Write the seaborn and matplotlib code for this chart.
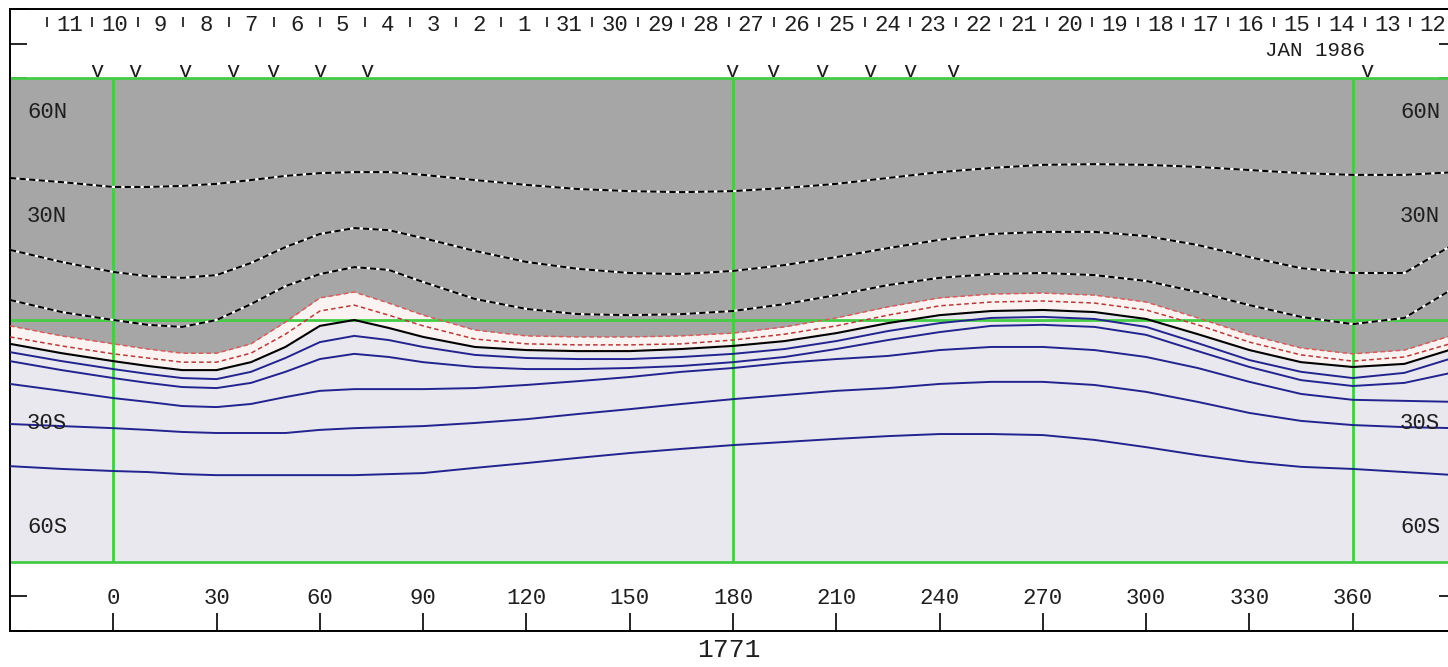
import matplotlib
matplotlib.use("Agg")
import matplotlib.pyplot as plt
import matplotlib.transforms as mtransforms
import seaborn as sns

# ---------------- data ----------------
# Carrington longitude sample points (denser across the bump near 60 deg)
LON = [-30, -15, 0, 10, 20, 30, 40, 50, 60, 70, 80, 90,
       105, 120, 135, 150, 165, 180, 195, 210, 225, 240, 255, 270, 285, 300, 315, 330, 345, 360, 375, 390]

# negative-field contours (dashed, inside the grey region), latitude in degrees
D1 = [41.1, 39.9, 38.5, 38.5, 38.8, 39.4, 40.5, 41.7, 42.5, 42.8, 42.8, 42.0,
      40.5, 39.1, 37.9, 37.3, 37.0, 37.3, 38.2, 39.4, 41.1, 42.8, 44.0, 44.9, 45.1, 44.9, 44.3, 43.4, 42.5, 42.0, 42.0, 42.8]
D2 = [20.3, 16.8, 13.9, 12.7, 12.2, 13.0, 16.5, 21.1, 24.9, 26.6, 26.0, 23.7,
      20.0, 16.8, 14.8, 13.6, 13.3, 14.2, 15.9, 18.2, 20.8, 23.2, 24.9, 25.5, 25.5, 24.3, 21.7, 18.2, 15.0, 13.6, 13.6, 22.3]
D3 = [5.8, 2.3, 0.0, -1.4, -2.0, 0.0, 4.6, 9.8, 13.3, 15.3, 14.5, 11.0,
      6.1, 3.2, 1.7, 1.4, 1.7, 2.6, 4.6, 7.2, 10.1, 12.2, 13.3, 13.6, 13.0, 11.3, 8.1, 4.3, 0.9, -1.2, 0.6, 9.6]
# edge of the grey region and the inner dashed contour
R1 = [-1.7, -4.6, -6.9, -8.4, -9.6, -9.6, -6.9, -0.6, 6.4, 8.1, 4.9, 1.4,
      -2.9, -4.6, -4.9, -4.9, -4.6, -3.8, -2.0, 0.6, 3.8, 6.4, 7.5, 7.8, 7.2, 5.2, 0.6, -4.3, -8.1, -9.8, -8.7, -4.1]
R2 = [-4.9, -7.5, -9.8, -11.0, -12.2, -12.2, -9.6, -4.1, 2.6, 4.3, 1.4, -1.7,
      -5.5, -6.9, -7.2, -7.2, -6.9, -5.8, -4.1, -1.7, 1.4, 4.1, 5.2, 5.5, 4.9, 2.9, -1.4, -6.4, -10.1, -11.9, -10.7, -6.4]
# neutral line
K0 = [-6.9, -9.6, -11.9, -13.3, -14.5, -14.5, -12.2, -7.8, -1.7, 0.0, -2.3, -4.9,
      -7.8, -8.7, -9.0, -9.0, -8.4, -7.5, -6.1, -3.8, -0.9, 1.4, 2.6, 2.9, 2.3, 0.3, -4.1, -8.7, -12.2, -13.6, -12.7, -8.1]
# positive-field contours (solid blue)
B1 = [-9.3, -11.9, -14.2, -15.6, -16.8, -17.1, -15.0, -11.0, -6.4, -4.6, -5.8, -7.8,
      -10.1, -11.0, -11.3, -11.3, -10.7, -9.8, -8.4, -6.1, -3.2, -0.9, 0.6, 0.9, 0.3, -2.0, -6.7, -11.6, -15.0, -16.8, -15.3, -10.7]
B2 = [-11.9, -14.5, -16.8, -18.2, -19.4, -19.7, -18.2, -15.0, -11.3, -9.8, -10.7, -12.2,
      -13.6, -14.2, -14.2, -13.9, -13.3, -12.2, -10.7, -8.4, -5.8, -3.5, -1.7, -1.4, -2.0, -4.3, -9.0, -13.6, -17.4, -19.1, -18.2, -15.0]
B3 = [-18.5, -20.5, -22.6, -23.7, -24.9, -25.2, -24.3, -22.3, -20.5, -20.0, -20.0, -20.0,
      -19.7, -18.8, -17.7, -16.5, -15.0, -13.9, -12.4, -11.3, -10.4, -8.7, -7.8, -7.8, -8.7, -10.7, -13.9, -17.9, -21.4, -23.1, -23.4, -23.7]
B4 = [-30.1, -30.7, -31.3, -31.8, -32.4, -32.7, -32.7, -32.7, -31.8, -31.3, -31.0, -30.7,
      -29.8, -28.7, -27.2, -25.8, -24.3, -22.9, -21.7, -20.5, -19.7, -18.5, -17.9, -17.9, -18.8, -20.8, -23.7, -26.9, -29.2, -30.4, -31.0, -31.3]
B5 = [-42.3, -43.1, -43.7, -44.0, -44.6, -44.9, -44.9, -44.9, -44.9, -44.9, -44.6, -44.3,
      -42.8, -41.4, -39.9, -38.5, -37.3, -36.2, -35.3, -34.4, -33.6, -33.0, -33.0, -33.3, -34.7, -36.8, -39.1, -41.1, -42.5, -43.1, -44.0, -44.9]

LON_TICKS = list(range(0, 361, 30))
LAT_TICKS = list(range(-90, 91, 10))
LAT_LABELS = {60: "60N", 30: "30N", -30: "30S", -60: "60S"}

# calendar (days run right-to-left)
DAY_LABELS = [12, 13, 14, 15, 16, 17, 18, 19, 20, 21, 22, 23, 24, 25, 26, 27, 28, 29, 30, 31,
              1, 2, 3, 4, 5, 6, 7, 8, 9, 10, 11]
DAY0_LON = 389.9       # longitude at 0 UT of the first day (Jan 12)
DEG_PER_DAY = 13.2
MONTH_LABEL = "JAN 1986"
MONTH_LON = 349.0

# observation markers
OBS_LON = [-4.7, 6.3, 20.9, 34.8, 46.4, 60.0, 73.7, 179.7, 191.6, 205.8, 219.8, 231.4, 243.9, 364.2]

ROTATION = "1771"

# ---------------- style ----------------
sns.set_theme(style="white")
plt.rcParams['font.family'] = ['Liberation Mono', 'DejaVu Sans Mono']

GREY = "#a6a6a6"
BAND = "#faf3f2"
LIGHT = "#e8e8ee"
GREEN = "#44cc44"
BLUE = "#23238f"
TXT = "#1e1e1e"

fig = plt.figure(figsize=(14.48, 6.67), dpi=100)
ax = fig.add_axes([10 / 1448, 36 / 667, 1446 / 1448, 622 / 667])
ax.set_xlim(-30, 390)
ax.set_ylim(-90, 90)
ax.set_facecolor("white")

# filled regions
ax.fill_between(LON, R1, 70, color=GREY, lw=0, zorder=1)
ax.fill_between(LON, K0, R1, color=BAND, lw=0, zorder=1)
ax.fill_between(LON, -70, K0, color=LIGHT, lw=0, zorder=1)

# green grid
ax.hlines([70, 0, -70], -30, 390, color=GREEN, lw=2.0, zorder=2)
ax.vlines([0, 180, 360], -70, 70, color=GREEN, lw=2.0, zorder=2)

def line(y, **kw):
    sns.lineplot(x=LON, y=y, ax=ax, estimator=None, sort=False, legend=False, **kw)

for d in (D1, D2, D3):
    line(d, color="white", linewidth=1.5, zorder=3)
    line(d, color="black", linewidth=1.5, linestyle=(0, (3, 1.6)), zorder=4)
line(R1, color="#dd5a5a", linewidth=1.1, linestyle=(0, (3, 2)), zorder=4)
line(R2, color="#b83a3a", linewidth=1.1, linestyle=(0, (3, 2)), zorder=4)
line(K0, color="black", linewidth=1.5, zorder=4)
for b in (B1, B2, B3, B4, B5):
    line(b, color=BLUE, linewidth=1.4, zorder=4)

# frame & ticks
for s in ax.spines.values():
    s.set_color("black")
    s.set_linewidth(1.4)
ax.set_xticks(LON_TICKS)
ax.set_yticks(LAT_TICKS)
ax.tick_params(axis="x", direction="in", length=13, width=1.2, color="black",
               bottom=True, top=False, labelbottom=False)
ax.tick_params(axis="y", direction="in", length=12, width=1.2, color="black",
               left=True, right=True, labelleft=False, labelright=False)
ax.set_xlabel("")
ax.set_ylabel("")
ax.grid(False)

FS = 16
for lon in LON_TICKS:
    ax.text(lon, -80.6, str(lon), ha="center", va="center", fontsize=FS, color=TXT, zorder=5)

trans_l = mtransforms.blended_transform_factory(ax.transAxes, ax.transData)
for lat, lab in LAT_LABELS.items():
    ax.text(0.0118, lat, lab, transform=trans_l, ha="left", va="center", fontsize=FS, color=TXT, zorder=5)
    ax.text(0.989, lat, lab, transform=trans_l, ha="right", va="center", fontsize=FS, color=TXT, zorder=5)

# day ticks and labels on top
n = len(DAY_LABELS)
bounds = [DAY0_LON - k * DEG_PER_DAY for k in range(n + 1)]
ax.vlines(bounds, 84.8, 87.7, color="black", lw=1.1, zorder=5)
for k, d in enumerate(DAY_LABELS):
    c = DAY0_LON - (k + 0.5) * DEG_PER_DAY
    ax.text(c, 85.3, str(d), ha="center", va="center", fontsize=FS, color=TXT, zorder=5)
ax.text(MONTH_LON, 78.0, MONTH_LABEL, ha="center", va="center", fontsize=15, color=TXT, zorder=5)

for lon in OBS_LON:
    ax.text(lon, 70.4, "v", ha="center", va="baseline", fontsize=16, color=TXT, zorder=5)

fig.text(729 / 1448, (667 - 650) / 667, ROTATION, ha="center", va="center", fontsize=19, color=TXT)

fig.savefig("out.png", dpi=100, facecolor="white")
